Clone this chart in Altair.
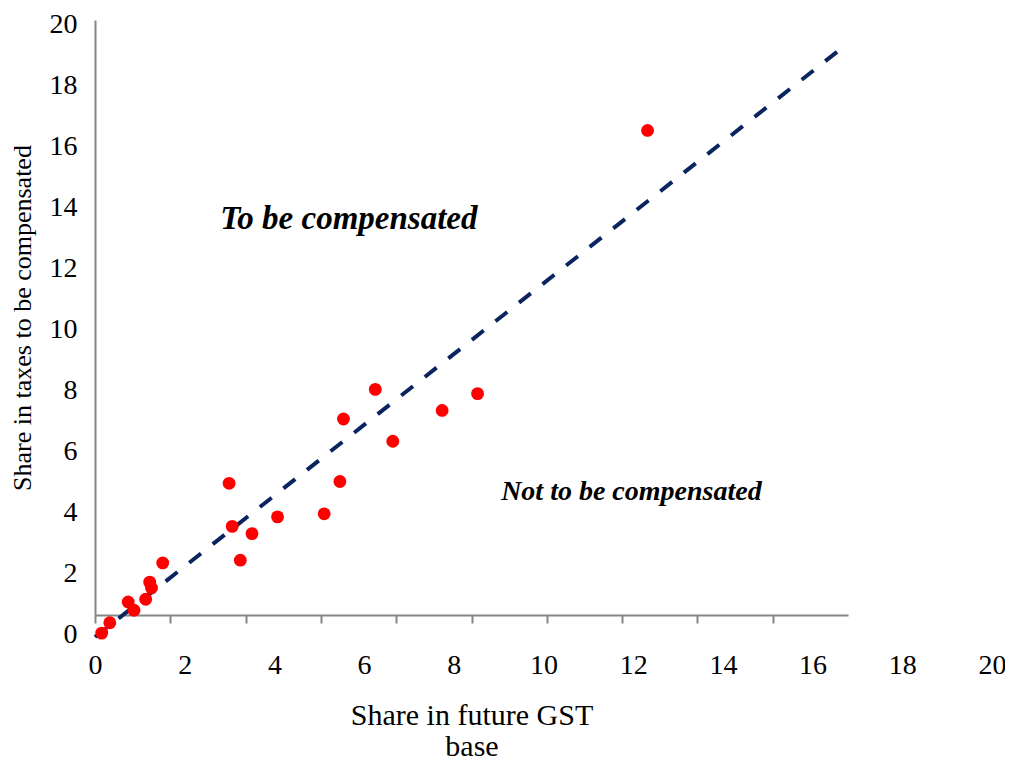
import altair as alt
import pandas as pd

# Data
gst_share = [0.15, 0.33, 0.74, 0.87, 1.13, 1.22, 1.26, 1.51, 2.99, 3.06, 3.24,
             3.50, 4.07, 5.11, 5.46, 5.54, 6.25, 6.64, 7.74, 8.53, 12.32]
tax_share = [0.03, 0.37, 1.05, 0.78, 1.14, 1.70, 1.51, 2.33, 4.94, 3.53, 2.42,
             3.29, 3.84, 3.94, 5.00, 7.05, 8.02, 6.32, 7.33, 7.88, 16.51]

line_x = [0, 16.6]
line_y = [-0.1, 19.15]

label_upper = "To be compensated"
label_upper_pos = [5.66, 13.6]
label_lower = "Not to be compensated"
label_lower_pos = [11.96, 4.66]

x_ticks = [0, 2, 4, 6, 8, 10, 12, 14, 16, 18, 20]
y_ticks = [0, 2, 4, 6, 8, 10, 12, 14, 16, 18, 20]
frame_ticks = [0, 1, 2, 3, 4, 5, 6, 7, 8, 9]

x_title = ["Share in future GST", "base"]
y_title = "Share in taxes to be compensated"

FONT = "Liberation Serif"
GREY = "#868686"

pts = pd.DataFrame({"x": gst_share, "y": tax_share})
diag = pd.DataFrame({"x": line_x, "y": line_y})
ann1 = pd.DataFrame({"x": [label_upper_pos[0]], "y": [label_upper_pos[1]], "t": [label_upper]})
ann2 = pd.DataFrame({"x": [label_lower_pos[0]], "y": [label_lower_pos[1]], "t": [label_lower]})

xscale = alt.Scale(domain=[0, 20], nice=False, zero=False)
yscale = alt.Scale(domain=[0, 20], nice=False, zero=False)
xaxis = alt.Axis(values=x_ticks, domain=False, ticks=False, grid=False, labelFlush=False,
                 labelPadding=17, labelFont=FONT, labelFontSize=28, labelColor="black",
                 title=None, labelOverlap=False)
yaxis = alt.Axis(values=y_ticks, domain=False, ticks=False, grid=False, labelFlush=False,
                 labelPadding=18, labelFont=FONT, labelFontSize=28, labelColor="black",
                 title=None, labelOverlap=False)

X = alt.X("x:Q", scale=xscale, axis=xaxis)
Y = alt.Y("y:Q", scale=yscale, axis=yaxis)

line = alt.Chart(diag).mark_line(strokeDash=[15, 15], strokeWidth=4, color="#0a2460").encode(x=X, y=Y)
points = alt.Chart(pts).mark_circle(size=165, color="#ff0000", opacity=1).encode(x=X, y=Y)
t1 = alt.Chart(ann1).mark_text(font=FONT, fontSize=33, fontStyle="italic", fontWeight="bold",
                               color="black").encode(x=X, y=Y, text="t:N")
t2 = alt.Chart(ann2).mark_text(font=FONT, fontSize=28, fontStyle="italic", fontWeight="bold",
                               color="black").encode(x=X, y=Y, text="t:N")

main = alt.layer(line, points, t1, t2)

frame = alt.Chart(pd.DataFrame({"a": [0], "b": [0]})).mark_point(opacity=0).encode(
    x=alt.X("a:Q", scale=alt.Scale(domain=[0, 10], range=[0, 753], nice=False, zero=False),
            axis=alt.Axis(orient="bottom", offset=-19, values=frame_ticks, labels=False,
                          ticks=True, tickSize=8, tickColor=GREY, tickWidth=2,
                          domainColor=GREY, domainWidth=2, grid=False,
                          title=x_title, titleFont=FONT, titleFontSize=30,
                          titleFontWeight="normal", titleColor="black",
                          titlePadding=76, titleLineHeight=31)),
    y=alt.Y("b:Q", scale=alt.Scale(domain=[0, 1], range=[591, -4], nice=False, zero=False),
            axis=alt.Axis(orient="left", labels=False, ticks=False, domainColor=GREY,
                          domainWidth=2, grid=False, title=y_title, titleFont=FONT,
                          titleFontSize=26, titleFontWeight="normal", titleColor="black",
                          titlePadding=60)),
)

chart = alt.layer(main, frame).resolve_scale(x="independent", y="independent").properties(
    width=897, height=610,
    autosize=alt.AutoSizeParams(type="none"),
    padding={"left": 87, "top": 16, "right": 13, "bottom": 126},
).configure_view(stroke=None)

chart.save("out.html", embed_options={"renderer": "svg", "actions": False})
